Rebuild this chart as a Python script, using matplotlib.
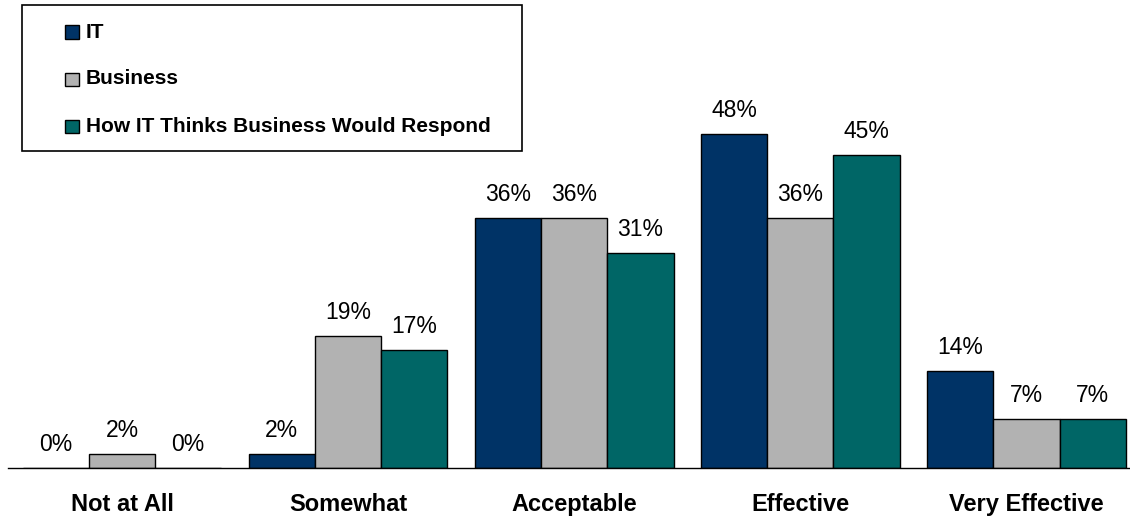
import matplotlib
matplotlib.use("Agg")
import matplotlib.pyplot as plt
from matplotlib.patches import Rectangle
import numpy as np

plt.rcParams['font.family'] = ['Liberation Sans', 'DejaVu Sans']

categories = ["Not at All", "Somewhat", "Acceptable", "Effective", "Very Effective"]
series_names = ["IT", "Business", "How IT Thinks Business Would Respond"]
it_values = [0, 2, 36, 48, 14]
business_values = [2, 19, 36, 36, 7]
perceived_values = [0, 17, 31, 45, 7]
colors = ["#003366", "#B2B2B2", "#006666"]

W, H = 1130, 518
fig = plt.figure(figsize=(W / 100, H / 100), dpi=100)
ax_left, ax_right = 8, 1130
ax_bottom, ax_top = 468, 100
ax = fig.add_axes([ax_left / W, (H - ax_bottom) / H,
                   (ax_right - ax_left) / W, (ax_bottom - ax_top) / H])

x = np.arange(len(categories))
bw = 0.293
all_series = [it_values, business_values, perceived_values]
for i, (vals, col) in enumerate(zip(all_series, colors)):
    pos = x + (i - 1) * bw
    ax.bar(pos, vals, width=bw, color=col, edgecolor="black",
           linewidth=1.0, zorder=2)
    for xb, v in zip(pos, vals):
        ax.annotate(f"{v}%", xy=(xb, v), xytext=(0, 17),
                    textcoords="offset pixels", ha="center", va="baseline",
                    fontsize=16.5, color="black")

ax.set_xlim(-0.504, 4.458)
ax.set_ylim(0, (ax_bottom - ax_top) / 6.95)
for s in ["top", "right", "left"]:
    ax.spines[s].set_visible(False)
ax.spines["bottom"].set_linewidth(1.0)
ax.spines["bottom"].set_zorder(3)
ax.set_yticks([])
ax.set_xticks(x)
ax.set_xticklabels(categories, fontsize=17, fontweight="bold")
ax.tick_params(axis="x", length=0, pad=18)


# Legend box drawn in figure pixel space
def fx(px):
    return px / W


def fy(py):
    return (H - py) / H


box = Rectangle((fx(22), fy(151)), fx(522) - fx(22), fy(5) - fy(151),
                transform=fig.transFigure, facecolor="white",
                edgecolor="black", linewidth=1.2, zorder=5)
fig.patches.append(box)
row_y = [32, 79, 126]
for name, col, yy in zip(series_names, colors, row_y):
    sq = Rectangle((fx(65), fy(yy + 6.5)), fx(79) - fx(65), fy(yy - 6.5) - fy(yy + 6.5),
                   transform=fig.transFigure, facecolor=col,
                   edgecolor="black", linewidth=1.0, zorder=6)
    fig.patches.append(sq)
    fig.text(fx(86), fy(yy), name, fontsize=15, fontweight="bold",
             va="center", ha="left", zorder=7)

fig.savefig("out.png", dpi=100)
